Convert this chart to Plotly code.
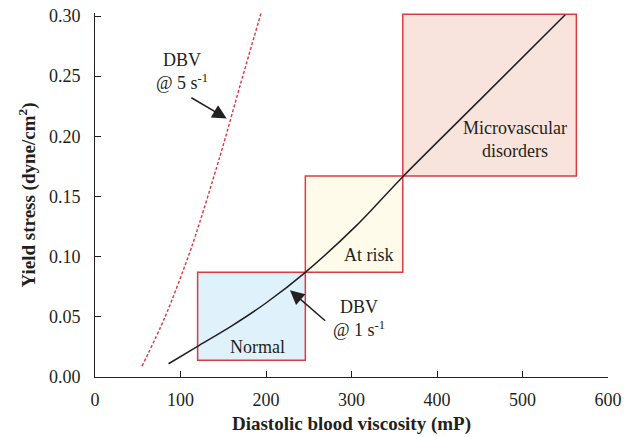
import plotly.graph_objects as go

# ---- data ----
dbv1_x = [86, 120, 160, 200, 246, 306, 360, 454, 550]
dbv1_y = [0.011, 0.0255, 0.0425, 0.0615, 0.087, 0.126, 0.1665, 0.233, 0.301]

dbv5_x = [55, 82, 113, 146, 170, 194]
dbv5_y = [0.009, 0.050, 0.108, 0.183, 0.243, 0.302]

zone_names = ["Normal", "At risk", "Microvascular<br>disorders"]
zone_x0 = [120, 246, 360]
zone_x1 = [246, 360, 563]
zone_y0 = [0.014, 0.087, 0.167]
zone_y1 = [0.087, 0.167, 0.3015]
zone_fill = ["#dff2fb", "#fffbea", "#f9e4dd"]
zone_label_x = [190, 320, 491]
zone_label_y = [0.025, 0.1017, 0.1976]

x_ticks = [0, 100, 200, 300, 400, 500, 600]
y_ticks = [0.00, 0.05, 0.10, 0.15, 0.20, 0.25, 0.30]

# annotation labels with arrows (text position, arrow tail, arrow tip)
arrow_text = ["DBV<br>@ 5 s<sup>-1</sup>", "DBV<br>@ 1 s<sup>-1</sup>"]
arrow_text_x = [102, 309]
arrow_text_y = [0.254, 0.0488]
arrow_tail_x = [111, 271]
arrow_tail_y = [0.2328, 0.0457]
arrow_tip_x = [154, 228]
arrow_tip_y = [0.2148, 0.0721]

TXT = "#231f20"
RED = "#dc3b41"
FONT = "Liberation Serif"

fig = go.Figure()

for i in range(len(zone_names)):
    fig.add_shape(type="rect", xref="x", yref="y",
                  x0=zone_x0[i], x1=zone_x1[i], y0=zone_y0[i], y1=zone_y1[i],
                  fillcolor=zone_fill[i], line=dict(color=RED, width=1.5),
                  layer="below")
    fig.add_annotation(x=zone_label_x[i], y=zone_label_y[i], text=zone_names[i],
                       showarrow=False, font=dict(family=FONT, size=18, color=TXT))

fig.add_trace(go.Scatter(x=dbv5_x, y=dbv5_y, mode="lines",
                         line=dict(color="#e0343c", width=1.4, dash="3px,2px",
                                   shape="spline", smoothing=0.8),
                         showlegend=False, hoverinfo="skip"))
fig.add_trace(go.Scatter(x=dbv1_x, y=dbv1_y, mode="lines",
                         line=dict(color=TXT, width=1.5, shape="spline", smoothing=0.8),
                         showlegend=False, hoverinfo="skip"))

for i in range(len(arrow_text)):
    fig.add_annotation(x=arrow_text_x[i], y=arrow_text_y[i], text=arrow_text[i],
                       showarrow=False, font=dict(family=FONT, size=18, color=TXT))
    fig.add_annotation(x=arrow_tip_x[i], y=arrow_tip_y[i], ax=arrow_tail_x[i], ay=arrow_tail_y[i],
                       axref="x", ayref="y", xref="x", yref="y", text="",
                       showarrow=True, arrowhead=2, arrowsize=1.9, arrowwidth=1.5,
                       arrowcolor=TXT)

fig.update_layout(
    width=625, height=437,
    margin=dict(l=95, r=17, t=13, b=60, autoexpand=False),
    paper_bgcolor="white", plot_bgcolor="white",
    font=dict(family=FONT, size=18, color=TXT),
    showlegend=False,
)
fig.update_xaxes(range=[0, 600], tickvals=x_ticks, ticks="inside", ticklen=6,
                 tickcolor=TXT, showline=True, linecolor=TXT, linewidth=1,
                 showgrid=False, zeroline=False, ticklabelstandoff=6, automargin=False,
                 tickfont=dict(family=FONT, size=18, color=TXT),
                 title=dict(text="<b>Diastolic blood viscosity (mP)</b>",
                            font=dict(family=FONT, size=19, color=TXT), standoff=8))
fig.update_yaxes(range=[0, 0.3025], tickvals=y_ticks, tickformat=".2f", ticks="inside",
                 ticklen=6, tickcolor=TXT, showline=True, linecolor=TXT, linewidth=1,
                 showgrid=False, zeroline=False, ticklabelstandoff=10, automargin=False,
                 tickfont=dict(family=FONT, size=18, color=TXT),
                 title=dict(text="<b>Yield stress (dyne/cm<sup>2</sup>)</b>",
                            font=dict(family=FONT, size=19, color=TXT), standoff=8))

fig.write_html("out.html", config={"displayModeBar": False},
               post_script="document.body.style.margin='0px';document.body.style.overflow='hidden';")
